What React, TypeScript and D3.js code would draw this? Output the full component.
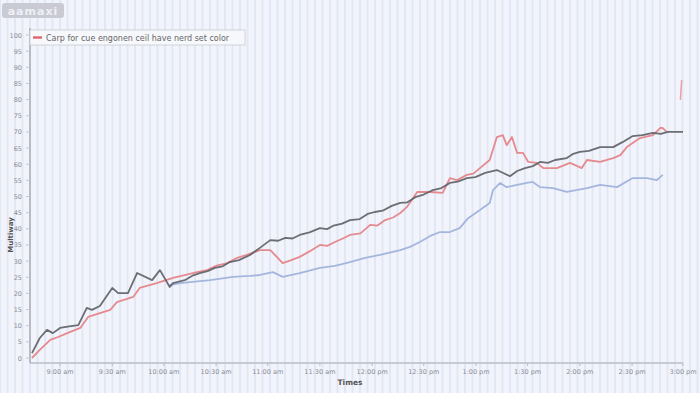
import React from "react";
import * as d3 from "d3";

const W = 700;
const H = 393;

// Series values: [time index, value]
const darkSeries: [number, number][] = [
  [0.3, 1.5], [1.5, 6.2], [2.6, 8.7], [3.5, 7.7], [4.6, 9.3], [6.0, 9.8], [7.4, 10.2], [8.7, 15.5],
  [9.5, 14.9], [10.7, 16.1], [12.6, 21.7], [13.5, 20.1], [15.0, 20.1], [16.4, 26.3], [18.7, 24.1],
  [19.9, 27.2], [21.4, 22.0], [21.9, 23.2], [23.7, 24.1], [25.0, 25.6], [26.0, 26.3], [27.2, 26.9],
  [28.3, 27.9], [29.5, 28.4], [30.6, 29.7], [32.0, 30.3], [33.7, 31.9], [35.2, 34.1], [36.8, 36.5],
  [38.0, 36.3], [39.1, 37.2], [40.2, 37.0], [41.3, 38.1], [42.8, 38.9], [44.4, 40.2], [45.5, 39.9],
  [46.5, 41.0], [47.8, 41.6], [49.0, 42.7], [50.5, 43.0], [51.7, 44.6], [52.8, 45.2], [54.0, 45.6],
  [55.4, 47.1], [56.7, 48.0], [57.8, 48.2], [59.0, 49.8], [60.3, 50.6], [61.7, 52.0], [63.0, 52.6],
  [64.3, 54.2], [65.5, 54.6], [66.9, 55.7], [68.2, 56.0], [69.7, 57.3], [71.5, 58.2], [73.5, 56.3],
  [74.6, 57.9], [75.8, 58.8], [77.0, 59.4], [78.1, 60.7], [79.3, 60.4], [80.4, 61.3], [82.2, 61.9],
  [83.2, 63.2], [84.2, 63.8], [85.6, 64.1], [87.3, 65.3], [89.3, 65.3], [90.8, 66.9], [92.3, 68.7],
  [93.8, 69.0], [95.4, 69.7], [96.6, 69.4], [97.7, 70.0], [100, 70.0],
];

const redSeries: [number, number][] = [
  [0.3, 0], [1.5, 2.5], [3.1, 5.6], [4.3, 6.5], [5.7, 7.7], [7.7, 9.3], [8.9, 12.7], [10.7, 13.9],
  [12.3, 14.9], [13.3, 17.3], [15.8, 18.9], [16.8, 21.7], [19.4, 23.2], [21.9, 24.8], [25.6, 26.6],
  [27.1, 27.2], [28.6, 28.6], [30.2, 29.4], [31.6, 30.9], [33.2, 31.9], [35.2, 33.4], [36.8, 33.4],
  [38.7, 29.4], [40.0, 30.3], [41.3, 31.3], [42.8, 33.0], [44.4, 35.0], [45.5, 34.7], [46.7, 35.9],
  [47.9, 37.0], [49.0, 38.1], [50.6, 38.6], [52.1, 41.2], [53.2, 41.0], [54.4, 42.7], [55.6, 43.5],
  [56.7, 44.9], [57.7, 46.7], [59.3, 51.4], [61.3, 51.4], [63.2, 51.1], [64.3, 55.7], [65.4, 55.1],
  [66.9, 56.7], [67.9, 57.1], [68.9, 58.8], [70.4, 61.3], [71.5, 68.4], [72.4, 69.0], [73.0, 65.9],
  [73.8, 68.4], [74.6, 63.5], [75.5, 63.5], [76.3, 60.7], [77.6, 60.4], [78.6, 58.8], [80.7, 58.8],
  [82.7, 60.4], [84.5, 58.8], [85.3, 61.3], [87.3, 60.7], [89.3, 61.9], [90.4, 62.8], [91.4, 65.3],
  [93.4, 68.1], [95.4, 69.0], [96.5, 71.2], [96.9, 71.2], [97.5, 70.0],
];

const redTail: [number, number][] = [[99.8, 86.1], [99.6, 79.9]];

const blueSeries: [number, number][] = [
  [21.4, 22.6], [23.0, 23.2], [24.5, 23.5], [27.6, 24.1], [31.1, 25.1], [33.7, 25.4], [35.2, 25.7],
  [37.2, 26.6], [38.7, 25.1], [41.3, 26.3], [44.4, 27.9], [46.7, 28.5], [49.0, 29.7], [51.3, 31.0],
  [53.6, 31.9], [56.7, 33.4], [58.2, 34.4], [59.7, 35.9], [61.3, 37.8], [62.8, 39.0], [64.3, 39.0],
  [65.8, 40.2], [67.1, 43.3], [68.9, 45.8], [70.4, 48.0], [70.9, 52.0], [72.0, 54.2], [73.0, 52.9],
  [74.6, 53.6], [76.1, 54.2], [77.0, 54.5], [78.1, 52.9], [80.1, 52.6], [82.2, 51.4], [85.3, 52.6],
  [87.3, 53.6], [89.9, 52.9], [92.3, 55.7], [94.5, 55.7], [96.0, 55.1], [96.9, 56.7],
];

const xTickValues = [4.6, 12.6, 20.5, 28.5, 36.4, 44.4, 52.4, 60.3, 68.3, 76.2, 84.2, 92.2, 100];
const xTickLabels = [
  "9:00 am", "9:30 am", "10:00 am", "10:30 am", "11:00 am", "11:30 am", "12:00 pm",
  "12:30 pm", "1:00 pm", "1:30 pm", "2:00 pm", "2:30 pm", "3:00 pm",
];
const yTickValues = d3.range(0, 101, 5);
const legendLabel = "Carp for cue engonen ceil have nerd set color";
const xTitle = "Times";
const yTitle = "Multiway";
const logoText = "aamaxi";

export default function App() {
  const left = 30, right = 683, top = 35, bottom = 358;
  const x = d3.scaleLinear().domain([0, 100]).range([left, right]);
  const y = d3.scaleLinear().domain([0, 100]).range([bottom, top]);
  const line = d3.line<[number, number]>().x(d => x(d[0])).y(d => y(d[1]));
  const stripes = d3.range(0, W, 7.5);
  const axisY = 363;
  const font = "'DejaVu Sans', sans-serif";

  return (
    <svg width={W} height={H} style={{ position: "fixed", left: 0, top: 0, background: "#f2f4fb" }}>
      <rect x={0} y={0} width={W} height={H} fill="#f2f4fb" />
      {stripes.map((s, i) => (
        <line key={i} x1={s} x2={s} y1={0} y2={H} stroke="#e3e6f4" strokeWidth={2} />
      ))}
      {/* logo */}
      <rect x={2} y={3} width={62} height={15} rx={3} fill="#c9cad3" />
      <text x={33} y={14.5} textAnchor="middle" fontFamily={font} fontSize={11} fontWeight="bold" fill="#eef0f6" letterSpacing={1}>{logoText}</text>

      {/* axes */}
      <line x1={left} x2={left} y1={28} y2={axisY} stroke="#b9bcc8" strokeWidth={2} />
      <line x1={left} x2={right} y1={axisY} y2={axisY} stroke="#b9bcc8" strokeWidth={1.5} />
      {yTickValues.map(v => (
        <g key={v}>
          <line x1={left - 4} x2={left} y1={y(v)} y2={y(v)} stroke="#c4c7d2" />
          <text x={22} y={y(v) + 2.5} textAnchor="end" fontFamily={font} fontSize={6.5} fill="#8a8d99">{v}</text>
        </g>
      ))}
      {xTickValues.map((v, i) => (
        <g key={i}>
          <line x1={x(v)} x2={x(v)} y1={axisY} y2={axisY + 3} stroke="#b9bcc8" />
          <text x={x(v)} y={axisY + 11} textAnchor="middle" fontFamily={font} fontSize={6.5} fill="#8a8d99">{xTickLabels[i]}</text>
        </g>
      ))}
      <text x={350} y={385} textAnchor="middle" fontFamily={font} fontSize={7.5} fontWeight="bold" fill="#555">{xTitle}</text>
      <text transform={`translate(13,235) rotate(-90)`} textAnchor="middle" fontFamily={font} fontSize={7} fontWeight="bold" fill="#555">{yTitle}</text>

      {/* series */}
      <path d={line(blueSeries) || ""} fill="none" stroke="#a4b6de" strokeWidth={1.8} strokeLinejoin="round" />
      <path d={line(redSeries) || ""} fill="none" stroke="#e58a8f" strokeWidth={1.8} strokeLinejoin="round" />
      <path d={line(darkSeries) || ""} fill="none" stroke="#5d5f66" strokeWidth={1.8} strokeLinejoin="round" opacity={0.9} />
      <path d={line(redTail) || ""} fill="none" stroke="#eaa0a4" strokeWidth={1.5} />

      {/* legend */}
      <rect x={30} y={30} width={215} height={15} fill="#f7f8fc" stroke="#c8cad3" strokeWidth={0.8} />
      <line x1={33} x2={42} y1={37.5} y2={37.5} stroke="#e06870" strokeWidth={2.5} />
      <text x={46} y={40.5} fontFamily={font} fontSize={8} fill="#666">{legendLabel}</text>
    </svg>
  );
}
